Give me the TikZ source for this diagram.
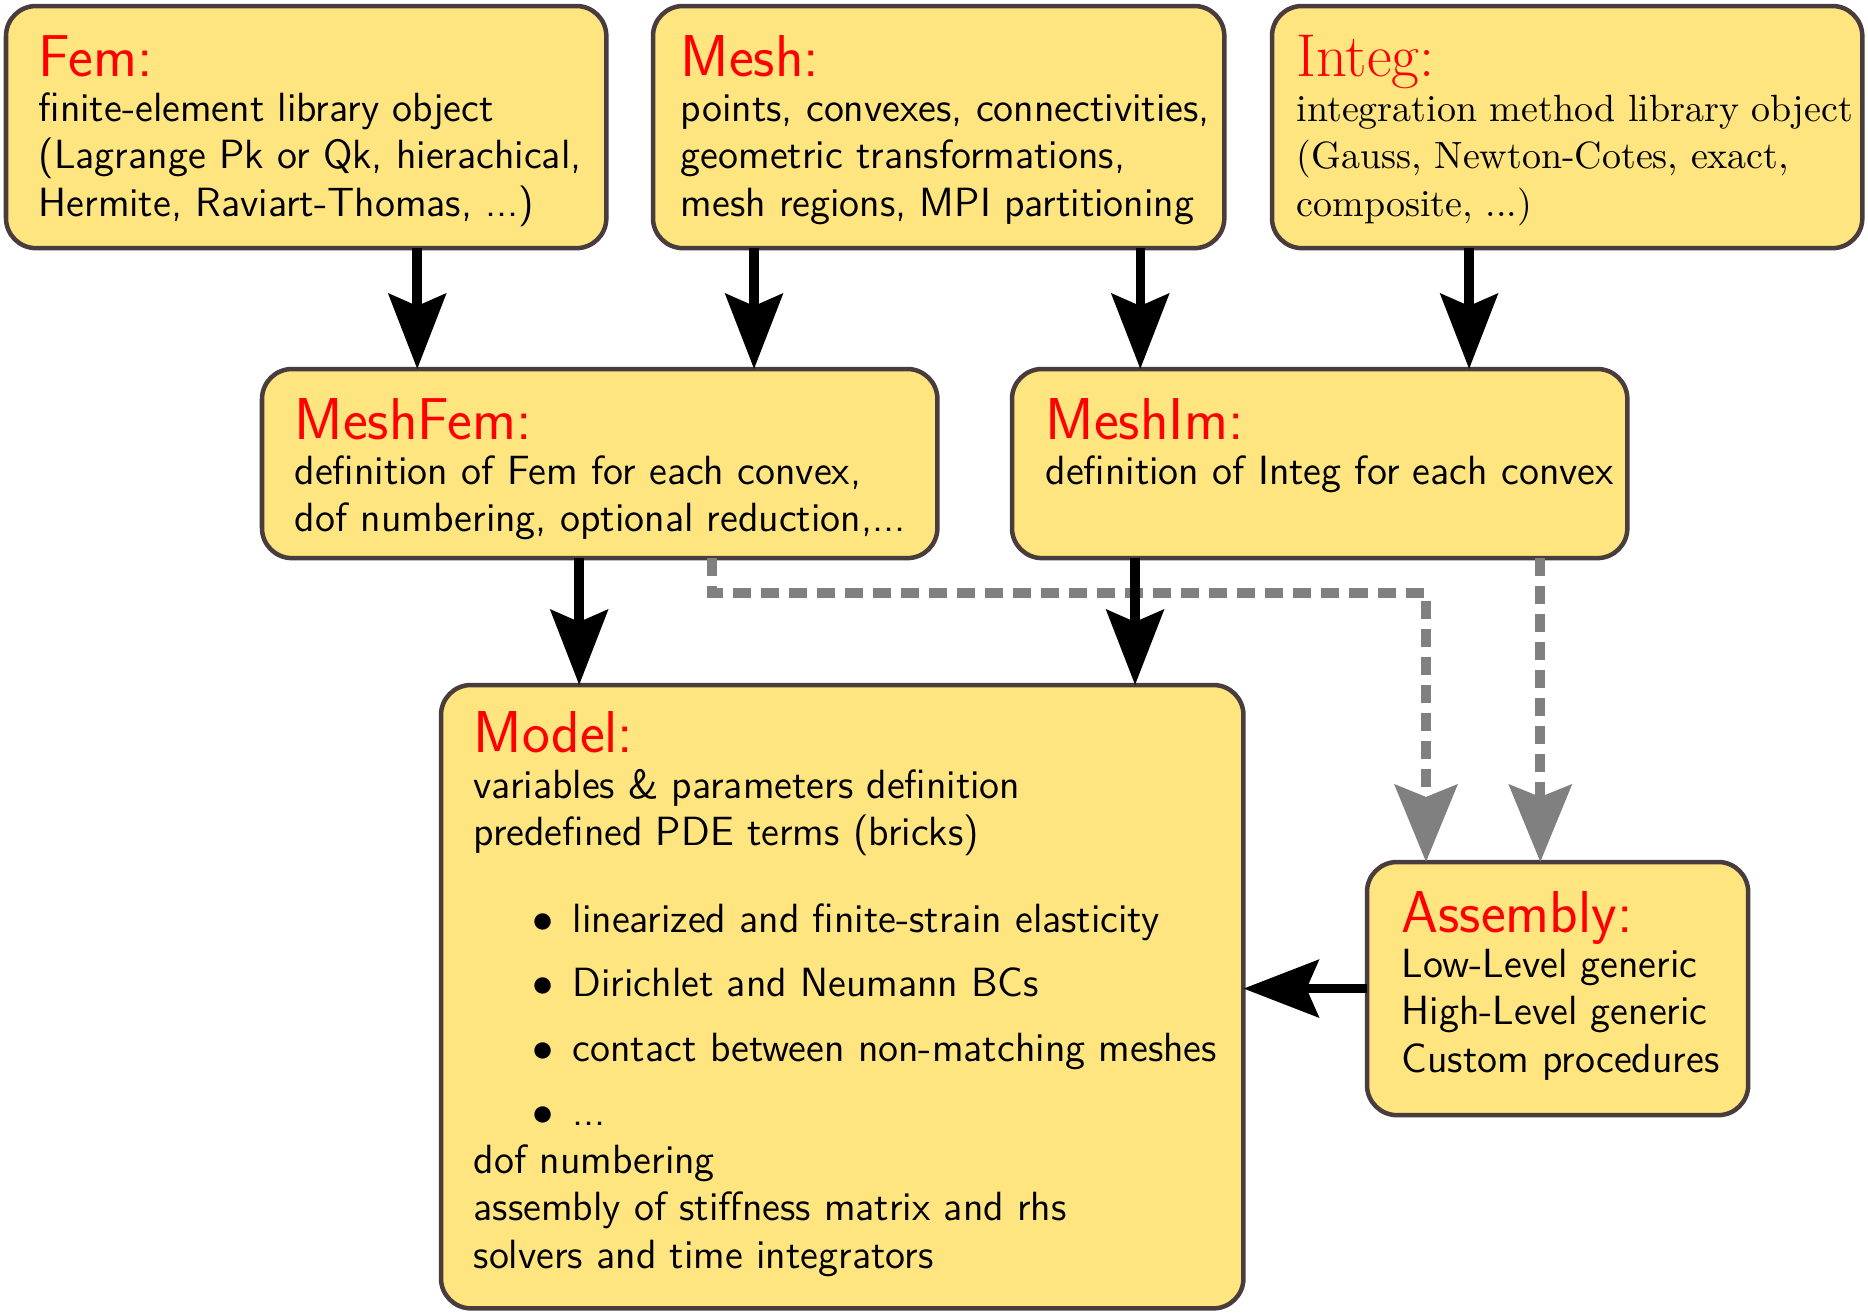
\documentclass[tikz,border=0pt]{standalone}
\usepackage{fontspec}
\usetikzlibrary{arrows.meta,calc}
\definecolor{boxfill}{RGB}{255,229,128}
\definecolor{boxdraw}{RGB}{72,60,60}
\definecolor{dashgray}{RGB}{128,128,128}
\definecolor{titlered}{RGB}{255,0,0}
\begin{document}
\begin{tikzpicture}[x=0.01cm,y=0.01cm,
  box/.style={draw=boxdraw, fill=boxfill, line width=0.045cm, rounded corners=0.3cm, outer sep=0pt, inner sep=0pt, anchor=north west},
  ttl/.style={inner sep=0pt, anchor=base west, text=titlered, font=\sffamily\fontsize{16.8}{19}\selectfont},
  bodytxt/.style={inner sep=0pt, anchor=base west, font=\sffamily\fontsize{11.6}{13.57}\selectfont},
  serifttl/.style={inner sep=0pt, anchor=base west, text=titlered, font=\rmfamily\fontsize{17.2}{19}\selectfont},
  seriftxt/.style={inner sep=0pt, anchor=base west, font=\rmfamily\fontsize{10.8}{13.57}\selectfont},
  arr/.style={line width=0.095cm, black, -{Stealth[length=0.75cm,width=0.57cm,inset=0.12cm]}},
  darr/.style={line width=0.1cm, dashgray, dash pattern=on 0.18cm off 0.1cm, -{Stealth[length=0.77cm,width=0.62cm,inset=0.12cm]}},
]
\useasboundingbox (0,0) rectangle (1868,-1314);

% boxes
\node[box, minimum width=6.00cm, minimum height=2.42cm] (fem) at (6,-6) {};
\node[box, minimum width=5.71cm, minimum height=2.42cm] (mesh) at (653,-6) {};
\node[box, minimum width=5.90cm, minimum height=2.42cm] (integ) at (1272,-6) {};
\node[box, minimum width=6.75cm, minimum height=1.89cm] (meshfem) at (262,-369) {};
\node[box, minimum width=6.15cm, minimum height=1.89cm] (meshim) at (1012,-369) {};
\node[box, minimum width=8.02cm, minimum height=6.23cm] (model) at (441,-685) {};
\node[box, minimum width=3.81cm, minimum height=2.53cm] (assembly) at (1367,-862) {};

% texts
\node[ttl] (femt) at ([shift={(32,-70)}]fem.north west) {Fem:};
\node[bodytxt] (femb) at ([shift={(32,-115)}]fem.north west) {\begin{tabular}[t]{@{}l@{}}finite-element library object\\(Lagrange Pk or Qk, hierachical,\\Hermite, Raviart-Thomas, ...)\end{tabular}};

\node[ttl] (mesht) at ([shift={(27,-70)}]mesh.north west) {Mesh:};
\node[bodytxt] (meshb) at ([shift={(27,-115)}]mesh.north west) {\begin{tabular}[t]{@{}l@{}}points, convexes, connectivities,\\geometric transformations,\\mesh regions, MPI partitioning\end{tabular}};

\node[serifttl] (integt) at ([shift={(24,-70)}]integ.north west) {Integ:};
\node[seriftxt] (integb) at ([shift={(24,-115)}]integ.north west) {\begin{tabular}[t]{@{}l@{}}integration method library object\\(Gauss, Newton-Cotes, exact,\\composite, ...)\end{tabular}};

\node[ttl] (meshfemt) at ([shift={(32,-70)}]meshfem.north west) {MeshFem:};
\node[bodytxt] (meshfemb) at ([shift={(32,-115)}]meshfem.north west) {\begin{tabular}[t]{@{}l@{}}definition of Fem for each convex,\\dof numbering, optional reduction,...\end{tabular}};

\node[ttl] (meshimt) at ([shift={(33,-70)}]meshim.north west) {MeshIm:};
\node[bodytxt] (meshimb) at ([shift={(33,-115)}]meshim.north west) {definition of Integ for each convex};

\node[ttl] (modelt) at ([shift={(32,-67)}]model.north west) {Model:};
\node[bodytxt] (modelb) at ([shift={(32,-113)}]model.north west) {\begin{tabular}[t]{@{}l@{}}variables \& parameters definition\\
predefined PDE terms (bricks)\\[0.39cm]
\rlap{\makebox[1.38cm][c]{$\bullet$}}\hspace{0.99cm}linearized and finite-strain elasticity\\[0.166cm]
\rlap{\makebox[1.38cm][c]{$\bullet$}}\hspace{0.99cm}Dirichlet and Neumann BCs\\[0.166cm]
\rlap{\makebox[1.38cm][c]{$\bullet$}}\hspace{0.99cm}contact between non-matching meshes\\[0.166cm]
\rlap{\makebox[1.38cm][c]{$\bullet$}}\hspace{0.99cm}...\\
dof numbering\\
assembly of stiffness matrix and rhs\\
solvers and time integrators\end{tabular}};

\node[ttl] (assemblyt) at ([shift={(34,-70)}]assembly.north west) {Assembly:};
\node[bodytxt] (assemblyb) at ([shift={(34,-115)}]assembly.north west) {\begin{tabular}[t]{@{}l@{}}Low-Level generic\\High-Level generic\\Custom procedures\end{tabular}};

% dashed connectors
\coordinate (dj) at (712,-593);
\coordinate (dk) at (1426,-593);
\draw[darr] (dj |- meshfem.south) -- (dj) -- (dk) -- (dk |- assembly.north);
\draw[darr] ([xshift=2.205cm]meshim.south) coordinate (s8) -- (s8 |- assembly.north);

% solid connectors
\draw[arr] ([xshift=1.11cm]fem.south) coordinate (s1) -- (s1 |- meshfem.north);
\draw[arr] ([xshift=-1.845cm]mesh.south) coordinate (s2) -- (s2 |- meshfem.north);
\draw[arr] ([xshift=2.015cm]mesh.south) coordinate (s3) -- (s3 |- meshim.north);
\draw[arr] ([xshift=-0.98cm]integ.south) coordinate (s4) -- (s4 |- meshim.north);
\draw[arr] ([xshift=-0.205cm]meshfem.south) coordinate (s5) -- (s5 |- model.north);
\draw[arr] ([xshift=-1.845cm]meshim.south) coordinate (s6) -- (s6 |- model.north);
\draw[arr] (assembly.west) -- (assembly.west -| model.east);
\end{tikzpicture}
\end{document}
